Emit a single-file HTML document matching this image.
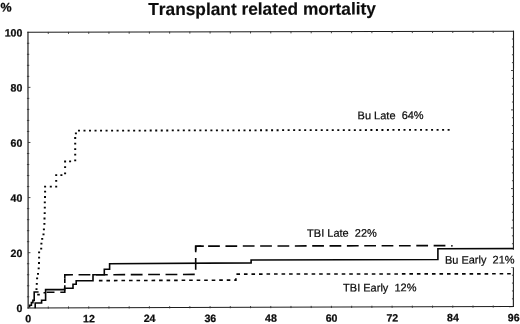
<!DOCTYPE html>
<html><head><meta charset="utf-8"><title>Transplant related mortality</title>
<style>
html,body{margin:0;padding:0;background:#fff;}
body{width:520px;height:324px;overflow:hidden;}
svg{display:block;will-change:transform;text-rendering:geometricPrecision;font-family:"Liberation Sans",Arial,sans-serif;fill:#0c0c0c;}
.ttl{font-weight:bold;font-size:17.3px;font-kerning:none;stroke:#0c0c0c;stroke-width:0.15;}
.ax{font-weight:bold;font-size:10.6px;stroke:#0c0c0c;stroke-width:0.25;}
.lb{font-size:11px;stroke:#0c0c0c;stroke-width:0.22;}
.ln{fill:none;stroke:#060606;stroke-width:1.6;}
.fr{fill:none;stroke:#1c1c1c;}
</style></head><body>
<svg width="520" height="324" viewBox="0 0 520 324">
<rect width="520" height="324" fill="#fff"/>
<!-- frame -->
<path class="fr" style="stroke:#333" stroke-width="1.3" d="M27.95 31.7 L28.17 308.4"/>
<path class="fr" stroke-width="1.1" d="M27.4 32.21 L514.0 31.27"/>
<path class="fr" stroke-width="1.1" d="M513.5 30.8 L513.4 307.0"/>
<path class="fr" stroke-width="1.1" d="M27.4 307.95 L514.0 306.56"/>
<g transform="matrix(1 -0.0023 0 1 0 0.5980)">
<text class="ttl" x="262.1" y="14.8" text-anchor="middle">Transplant related mortality</text>
<text class="ax" x="0.6" y="10.8" style="font-size:12.5px">%</text>
<path class="fr" style="stroke:#333;stroke-width:0.9" d="M48.28 308.18v-2.2M48.28 31.43v2.0M68.50 308.18v-2.2M68.50 31.43v2.0M88.73 308.18v-2.2M88.73 31.43v2.0M108.95 308.18v-2.2M108.95 31.43v2.0M129.18 308.18v-2.2M129.18 31.43v2.0M149.40 308.18v-2.2M149.40 31.43v2.0M169.63 308.18v-2.2M169.63 31.43v2.0M189.85 308.18v-2.2M189.85 31.43v2.0M210.08 308.18v-2.2M210.08 31.43v2.0M230.30 308.18v-2.2M230.30 31.43v2.0M250.53 308.18v-2.2M250.53 31.43v2.0M270.75 308.18v-2.2M270.75 31.43v2.0M290.98 308.18v-2.2M290.98 31.43v2.0M311.20 308.18v-2.2M311.20 31.43v2.0M331.43 308.18v-2.2M331.43 31.43v2.0M351.65 308.18v-2.2M351.65 31.43v2.0M371.88 308.18v-2.2M371.88 31.43v2.0M392.10 308.18v-2.2M392.10 31.43v2.0M412.33 308.18v-2.2M412.33 31.43v2.0M432.55 308.18v-2.2M432.55 31.43v2.0M452.78 308.18v-2.2M452.78 31.43v2.0M473.00 308.18v-2.2M473.00 31.43v2.0M493.23 308.18v-2.2M493.23 31.43v2.0M26.95 296.26h2.3M26.95 285.24h2.3M26.95 274.21h2.3M26.95 263.19h2.3M28.05 252.17h2.4M26.95 241.15h2.3M26.95 230.13h2.3M26.95 219.10h2.3M26.95 208.08h2.3M28.05 197.06h2.4M26.95 186.04h2.3M26.95 175.02h2.3M26.95 163.99h2.3M26.95 152.97h2.3M28.05 141.95h2.4M26.95 130.93h2.3M26.95 119.91h2.3M26.95 108.88h2.3M26.95 97.86h2.3M28.05 86.84h2.4M26.95 75.82h2.3M26.95 64.80h2.3M26.95 53.77h2.3M26.95 42.75h2.3M513.85 39.60h-1.9M513.85 47.48h-1.9M513.85 55.35h-1.9M513.85 63.22h-1.9M513.85 71.09h-2.8M513.85 78.97h-1.9M513.85 86.84h-1.9M513.85 94.71h-1.9M513.85 102.59h-1.9M513.85 110.46h-2.8M513.85 118.33h-1.9M513.85 126.20h-1.9M513.85 134.08h-1.9M513.85 141.95h-1.9M513.85 149.82h-2.8M513.85 157.70h-1.9M513.85 165.57h-1.9M513.85 173.44h-1.9M513.85 181.31h-1.9M513.85 189.19h-2.8M513.85 197.06h-1.9M513.85 204.93h-1.9M513.85 212.81h-1.9M513.85 220.68h-1.9M513.85 228.55h-2.8M513.85 236.42h-1.9M513.85 244.30h-1.9M513.85 252.17h-1.9M513.85 260.04h-1.9M513.85 267.92h-2.8M513.85 275.79h-1.9M513.85 283.66h-1.9M513.85 291.53h-1.9M513.85 299.41h-1.9"/>
<g class="ax"><text x="28.2" y="321.8" text-anchor="middle">0</text><text x="88.9" y="321.8" text-anchor="middle">12</text><text x="149.6" y="321.8" text-anchor="middle">24</text><text x="210.3" y="321.8" text-anchor="middle">36</text><text x="270.9" y="321.8" text-anchor="middle">48</text><text x="331.6" y="321.8" text-anchor="middle">60</text><text x="392.3" y="321.8" text-anchor="middle">72</text><text x="453.0" y="321.8" text-anchor="middle">84</text><text x="513.7" y="321.8" text-anchor="middle">96</text><text x="22.4" y="311.5" text-anchor="end">0</text><text x="22.4" y="256.4" text-anchor="end">20</text><text x="22.4" y="201.3" text-anchor="end">40</text><text x="22.4" y="146.2" text-anchor="end">60</text><text x="22.4" y="91.0" text-anchor="end">80</text><text x="22.4" y="35.9" text-anchor="end">100</text></g>
<!-- Bu Late (dotted) -->
<path class="ln" style="stroke-width:1.8" d="M77.98 130.27h2.0M83.50 130.27h2.0M89.02 130.27h2.0M94.53 130.27h2.0M100.05 130.27h2.0M105.57 130.27h2.0M111.09 130.27h2.0M116.60 130.27h2.0M122.12 130.27h2.0M127.64 130.27h2.0M133.15 130.27h2.0M138.67 130.27h2.0M144.19 130.27h2.0M149.70 130.27h2.0M155.22 130.27h2.0M160.74 130.27h2.0M166.25 130.27h2.0M171.77 130.27h2.0M177.29 130.27h2.0M182.81 130.27h2.0M188.32 130.27h2.0M193.84 130.27h2.0M199.36 130.27h2.0M204.87 130.27h2.0M210.39 130.27h2.0M215.91 130.27h2.0M221.43 130.27h2.0M226.94 130.27h2.0M232.46 130.27h2.0M237.98 130.27h2.0M243.49 130.27h2.0M249.01 130.27h2.0M254.53 130.27h2.0M260.04 130.27h2.0M265.56 130.27h2.0M271.08 130.27h2.0M276.60 130.27h2.0M282.11 130.27h2.0M287.63 130.27h2.0M293.15 130.27h2.0M298.66 130.27h2.0M304.18 130.27h2.0M309.70 130.27h2.0M315.21 130.27h2.0M320.73 130.27h2.0M326.25 130.27h2.0M331.76 130.27h2.0M337.28 130.27h2.0M342.80 130.27h2.0M348.32 130.27h2.0M353.83 130.27h2.0M359.35 130.27h2.0M364.87 130.27h2.0M370.38 130.27h2.0M375.90 130.27h2.0M381.42 130.27h2.0M386.94 130.27h2.0M392.45 130.27h2.0M397.97 130.27h2.0M403.49 130.27h2.0M409.00 130.27h2.0M414.52 130.27h2.0M420.04 130.27h2.0M425.55 130.27h2.0M431.07 130.27h2.0M436.59 130.27h2.0M442.11 130.27h2.0M447.62 130.27h2.0M74.90 132.88h2.0M74.20 137.57h2.0M74.20 143.27h2.0M74.20 148.77h2.0M74.20 154.17h2.0M74.20 159.87h2.0M69.10 160.86h2.0M64.10 161.05h2.0M64.10 166.75h2.0M64.10 172.95h2.0M60.40 174.64h2.0M55.20 174.63h2.0M55.20 180.33h2.0M55.20 186.23h2.0M49.80 186.22h2.0M44.10 186.21h2.0M44.10 191.21h2.0M44.00 196.51h2.0M43.80 201.81h2.0M43.80 207.21h2.0M43.70 212.60h2.0M43.50 218.00h2.0M43.40 223.40h2.0M42.90 228.80h2.0M42.50 233.80h2.0M41.20 238.40h2.0M40.40 243.10h2.0M40.20 248.10h2.0M38.10 251.89h2.0M38.10 257.09h2.0M38.00 262.49h2.0M37.70 267.89h2.0M37.00 273.29h2.0M36.10 277.89h2.0M35.80 283.29h2.0M35.50 288.69h2.0"/>
<!-- TBI Late (long dash) -->
<path class="ln" d="M29.60 306.97L29.60 304.77L31.40 304.77L31.40 302.07L32.90 302.08L32.90 299.88L34.20 299.88L34.20 291.48L38.60 291.49"/>
<path class="ln" d="M46.60 291.81L54.50 291.83M60.30 291.84L64.80 291.85L64.80 284.85M195.70 250.45L195.70 246.05L203.80 246.02M64.80 282.45L64.80 277.95"/>
<path class="ln" stroke-dasharray="11.8 5.6" d="M64.80 278.05L64.80 274.40L195.70 274.25L195.70 246.05L203.80 246.02"/>
<path class="ln" stroke-dasharray="11.75 5.6" d="M208.10 246.03L445.90 246.03"/>
<circle cx="451.9" cy="246.3" r="0.9"/>
<!-- TBI Early (short dash) -->
<path class="ln" d="M37.20 294.09L39.80 294.09M43.50 292.30L46.00 292.31"/>
<path class="ln" stroke-dasharray="3.6 3.92" d="M98.90 280.28L235.90 280.04L235.90 277.84"/>
<path class="ln" stroke-dasharray="3.6 3.92" d="M236.43 274.05L513.30 274.38"/>
<!-- Bu Early (solid) -->
<path class="ln" d="M35.20 307.68L35.20 302.48L41.60 302.50L41.60 299.70L45.60 299.71L45.60 289.11L64.60 289.15L64.60 287.85L73.00 287.87L73.00 283.77L76.20 283.78L76.20 280.38L93.00 280.42L93.00 274.32L104.30 274.34L104.30 268.84L109.60 268.85L109.60 263.35L251.10 262.88L251.10 259.98L437.90 259.91L437.90 249.21L513.30 249.18"/>
<rect x="443.5" y="250.4" width="73" height="17.5" fill="#fff"/>
<g class="lb">
<text x="357.6" y="119.45" xml:space="preserve">Bu Late  64%</text>
<text x="307.1" y="237.0" xml:space="preserve">TBI Late  22%</text>
<text x="444.9" y="264.1" xml:space="preserve">Bu Early  21%</text>
<text x="343.1" y="291.7" xml:space="preserve">TBI Early  12%</text>
</g>
</g>
</svg>
</body></html>
